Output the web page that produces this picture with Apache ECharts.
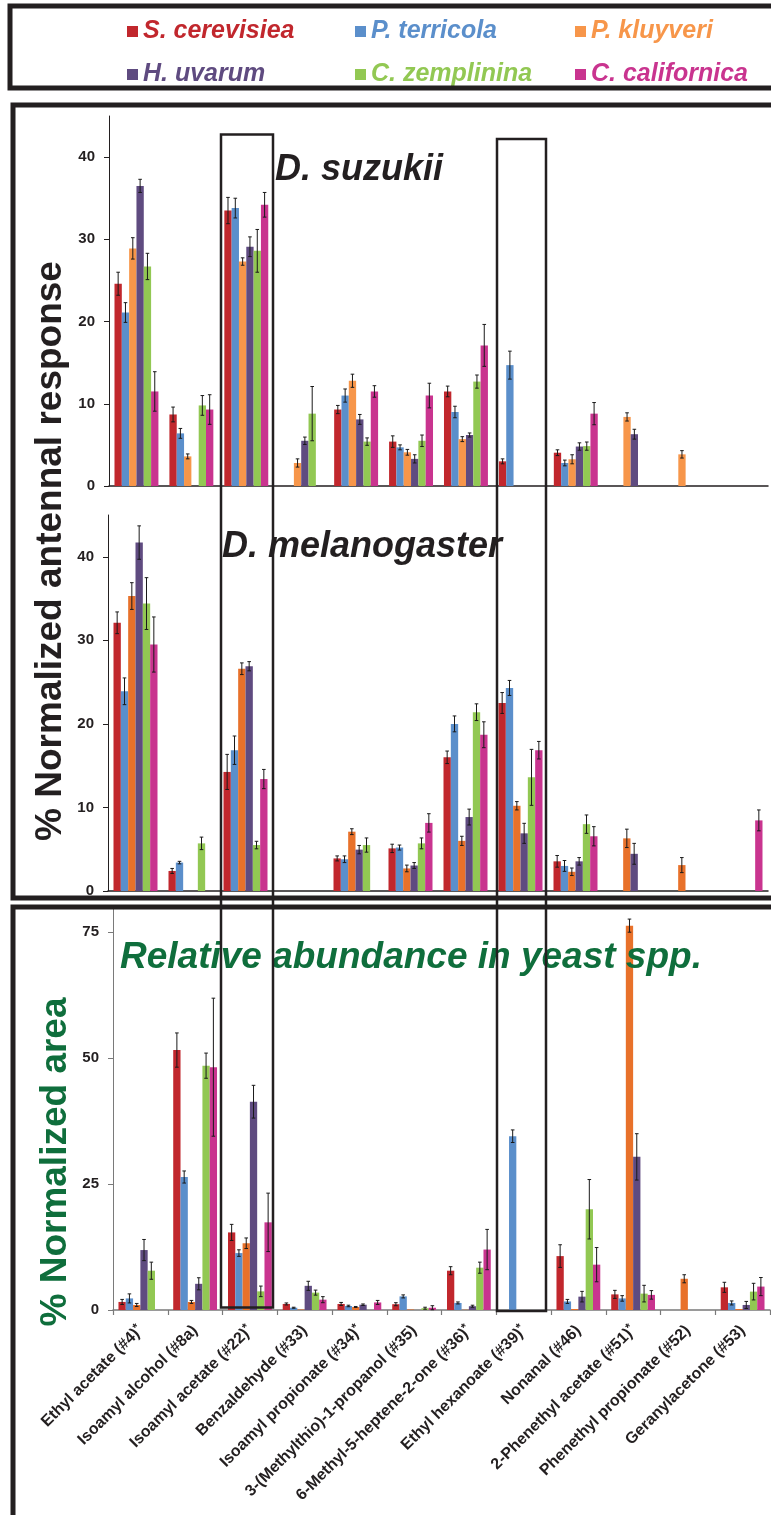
<!DOCTYPE html>
<html>
<head>
<meta charset="utf-8">
<script src="https://cdn.jsdelivr.net/npm/echarts@6/dist/echarts.min.js"></script>
<style>
  html, body { margin: 0; padding: 0; background: #fff; }
  #chart { width: 771px; height: 1515px; }
</style>
</head>
<body>
<div id="chart"></div>
<script>
const species = ['S. cerevisiea', 'P. terricola', 'P. kluyveri', 'H. uvarum', 'C. zemplinina', 'C. californica']
const compounds = [
  'Ethyl acetate (#4)', 'Isoamyl alcohol (#8a)', 'Isoamyl acetate (#22)', 'Benzaldehyde (#33)',
  'Isoamyl propionate (#34)', '3-(Methylthio)-1-propanol (#35)', '6-Methyl-5-heptene-2-one (#36)',
  'Ethyl hexanoate (#39)', 'Nonanal (#46)', '2-Phenethyl acetate (#51)', 'Phenethyl propionate (#52)',
  'Geranylacetone (#53)'
]
const starred = [true, false, true, false, true, false, true, true, false, true, false, false]

// D. suzukii, % normalized antennal response (rows follow species order)
const suzukiiMean = [
  [24.6, 8.7, 33.5, 0, 9.3, 5.4, 11.5, 3.0, 4.05, 0, 0, 0],
  [21.1, 6.4, 33.8, 0, 11.0, 4.7, 9.0, 14.7, 2.8, 0, 0, 0],
  [28.9, 3.6, 27.3, 2.8, 12.8, 4.1, 5.7, 0, 3.25, 8.4, 3.85, 0],
  [36.5, 0, 29.1, 5.5, 8.1, 3.3, 6.2, 0, 4.8, 6.3, 0, 0],
  [26.7, 9.8, 28.6, 8.8, 5.4, 5.5, 12.7, 0, 4.85, 0, 0, 0],
  [11.5, 9.3, 34.2, 0, 11.5, 11.0, 17.1, 0, 8.8, 0, 0, 0]
]
const suzukiiErr = [
  [1.4, 0.9, 1.6, 0, 0.5, 0.7, 0.65, 0.3, 0.35, 0, 0, 0],
  [1.2, 0.6, 1.2, 0, 0.8, 0.3, 0.7, 1.7, 0.35, 0, 0, 0],
  [1.3, 0.3, 0.45, 0.5, 0.8, 0.35, 0.3, 0, 0.55, 0.5, 0.45, 0],
  [0.8, 0, 1.2, 0.45, 0.6, 0.5, 0.25, 0, 0.45, 0.6, 0, 0],
  [1.6, 1.2, 2.6, 3.3, 0.45, 0.7, 0.8, 0, 0.5, 0, 0, 0],
  [2.4, 1.8, 1.5, 0, 0.7, 1.5, 2.55, 0, 1.35, 0, 0, 0]
]

// D. melanogaster
const melanoMean = [
  [32.1, 2.4, 14.25, 0, 3.9, 5.1, 16.0, 22.5, 3.55, 0, 0, 0],
  [23.9, 3.4, 16.85, 0, 3.8, 5.2, 20.0, 24.3, 3.0, 0, 0, 0],
  [35.3, 0, 26.6, 0, 7.1, 2.7, 6.0, 10.2, 2.3, 6.3, 3.1, 0],
  [41.7, 0, 26.9, 0, 4.95, 3.05, 8.85, 6.9, 3.55, 4.45, 0, 0],
  [34.4, 5.7, 5.5, 0, 5.5, 5.7, 21.4, 13.6, 8.0, 0, 0, 0],
  [29.5, 0, 13.4, 0, 0, 8.15, 18.7, 16.85, 6.55, 0, 0, 8.45]
]
const melanoErr = [
  [1.3, 0.3, 2.1, 0, 0.3, 0.5, 0.75, 1.25, 0.7, 0, 0, 0],
  [1.6, 0.15, 1.7, 0, 0.4, 0.3, 0.95, 0.9, 0.65, 0, 0, 0],
  [1.6, 0, 0.7, 0, 0.35, 0.4, 0.55, 0.5, 0.45, 1.1, 0.9, 0],
  [2.0, 0, 0.55, 0, 0.5, 0.35, 0.95, 1.2, 0.45, 1.25, 0, 0],
  [3.1, 0.75, 0.45, 0, 0.85, 0.65, 1.0, 3.35, 1.1, 0, 0, 0],
  [3.3, 0, 1.15, 0, 0, 1.1, 1.55, 1.05, 1.15, 0, 0, 1.25]
]

// relative abundance in yeast spp., % normalized area
const areaMean = [
  [1.6, 51.6, 15.4, 1.2, 1.2, 1.15, 7.8, 0, 10.7, 3.1, 0, 4.5],
  [2.3, 26.4, 11.3, 0.45, 0.8, 2.7, 1.4, 34.5, 1.7, 2.3, 0, 1.4],
  [1.0, 1.6, 13.25, 0.1, 0.6, 0.1, 0.05, 0, 0.2, 76.3, 6.2, 0.2],
  [11.9, 5.2, 41.35, 4.8, 1.05, 0, 0.75, 0, 2.65, 30.4, 0, 1.0],
  [7.8, 48.5, 3.7, 3.45, 0, 0.35, 8.4, 0, 20.0, 3.25, 0, 3.65],
  [0, 48.2, 17.4, 2.05, 1.5, 0.45, 12.0, 0, 9.0, 3.0, 0, 4.65]
]
const areaErr = [
  [0.5, 3.4, 1.6, 0.2, 0.3, 0.3, 0.8, 0, 2.25, 0.8, 0, 1.0],
  [0.9, 1.2, 0.65, 0.1, 0.15, 0.3, 0.2, 1.25, 0.4, 0.55, 0, 0.4],
  [0.3, 0.3, 1.05, 0, 0.1, 0, 0, 0, 0, 1.3, 0.8, 0],
  [2.1, 1.2, 3.25, 0.9, 0.15, 0, 0.2, 0, 1.05, 4.6, 0, 0.7],
  [1.7, 2.5, 1.05, 0.5, 0, 0.2, 1.1, 0, 5.9, 1.65, 0, 1.65],
  [0, 13.7, 5.8, 0.6, 0.4, 0.4, 4.0, 0, 3.4, 0.85, 0, 1.8]
]

const colorsTop = ['#c1272d', '#5b8fcb', '#f7964a', '#5f4b80', '#92c853', '#c9348f']
const colorsLow = ['#c1272d', '#5b8fcb', '#e8712a', '#5f4b80', '#92c853', '#c9348f']

const FONT = '"Liberation Sans", Arial, sans-serif'
const INK = '#231f20'
const GREEN = '#0f6e3c'

const chart = echarts.init(document.getElementById('chart'))

function errorBars(params, api) {
  const cat = api.value(0)
  const val = api.value(1)
  const err = api.value(2)
  const s = api.value(3)
  if (!err) {
    return
  }
  const band = api.size([1, 0])[0]
  const barW = band * 0.8 / 6
  const x = api.coord([cat, val])[0] + (s - 2.5) * barW
  const hi = api.coord([cat, val + err])[1]
  const lo = api.coord([cat, Math.max(val - err, 0)])[1]
  const style = { stroke: '#1a1a1a', lineWidth: 1 }
  return {
    type: 'group',
    children: [
      { type: 'line', shape: { x1: x, y1: hi, x2: x, y2: lo }, style },
      { type: 'line', shape: { x1: x - 1.8, y1: hi, x2: x + 1.8, y2: hi }, style },
      { type: 'line', shape: { x1: x - 1.8, y1: lo, x2: x + 1.8, y2: lo }, style }
    ]
  }
}

function panelSeries(means, errs, idx, colors) {
  const list = species.map((name, s) => ({
    name,
    type: 'bar',
    xAxisIndex: idx,
    yAxisIndex: idx,
    barGap: '0%',
    barCategoryGap: '20%',
    itemStyle: { color: colors[s] },
    data: means[s]
  }))
  const bars = []
  means.forEach((row, s) => {
    row.forEach((v, c) => bars.push([c, v, errs[s][c], s]))
  })
  list.push({
    type: 'custom',
    xAxisIndex: idx,
    yAxisIndex: idx,
    renderItem: errorBars,
    encode: { x: 0, y: 1 },
    silent: true,
    z: 3,
    data: bars
  })
  return list
}

function yAxis(idx, max, interval, lineColor) {
  return {
    type: 'value',
    gridIndex: idx,
    min: 0,
    max,
    interval,
    axisLine: { show: true, lineStyle: { color: lineColor, width: 1 } },
    axisTick: { show: true, length: 5, lineStyle: { color: lineColor } },
    axisLabel: {
      margin: 14,
      color: INK,
      fontSize: 15,
      fontWeight: 'bold',
      fontFamily: FONT,
      showMaxLabel: false
    },
    splitLine: { show: false }
  }
}

function xAxis(idx, showLabels, lineColor) {
  return {
    type: 'category',
    gridIndex: idx,
    data: compounds,
    axisLine: { show: true, lineStyle: { color: lineColor, width: 1.5 } },
    axisTick: { show: showLabels, length: 5, lineStyle: { color: lineColor, width: 1.2 } },
    axisLabel: {
      show: showLabels,
      interval: 0,
      rotate: 45,
      margin: 18,
      color: INK,
      fontSize: 16,
      fontWeight: 'bold',
      fontFamily: FONT,
      lineHeight: 18,
      formatter: (value, index) => starred[index] ? value + '{s|*}' : value,
      rich: {
        s: { fontSize: 12, fontWeight: 'bold', fontFamily: FONT, color: INK, verticalAlign: 'top', lineHeight: 18 }
      }
    }
  }
}

// legend: three columns, two rows
const legendSpots = [[122, 14], [350, 14], [570, 14], [122, 57], [350, 57], [570, 57]]
const legends = species.map((name, s) => ({
  data: [name],
  left: legendSpots[s][0],
  top: legendSpots[s][1],
  icon: 'rect',
  itemWidth: 11,
  itemHeight: 11,
  selectedMode: false,
  textStyle: {
    color: colorsTop[s],
    fontSize: 25,
    fontWeight: 'bold',
    fontStyle: 'italic',
    fontFamily: FONT
  }
}))

function label(text, x, y, size, color, rotation) {
  return {
    type: 'text',
    x,
    y,
    rotation: rotation || 0,
    z: 20,
    style: {
      text,
      font: (rotation ? '' : 'italic ') + 'bold ' + size + 'px ' + FONT,
      fill: color,
      textAlign: rotation ? 'center' : 'left',
      align: rotation ? 'center' : 'left',
      textVerticalAlign: 'middle',
      verticalAlign: 'middle'
    }
  }
}

function box(x, y, width, height, lineWidth) {
  return {
    type: 'rect',
    z: 30,
    shape: { x, y, width, height },
    style: { fill: 'none', stroke: INK, lineWidth }
  }
}

const option = {
  animation: false,
  textStyle: { fontFamily: FONT },
  legend: legends,
  grid: [
    { left: 109, top: 116, width: 659, height: 370 },
    { left: 108, top: 515, width: 660, height: 376 },
    { left: 113, top: 907, width: 657, height: 403 }
  ],
  xAxis: [
    xAxis(0, false, INK),
    xAxis(1, false, INK),
    xAxis(2, true, '#7a7a7a')
  ],
  yAxis: [
    yAxis(0, 45, 10, INK),
    yAxis(1, 45, 10, INK),
    yAxis(2, 80, 25, '#7a7a7a')
  ],
  series: [
    ...panelSeries(suzukiiMean, suzukiiErr, 0, colorsTop),
    ...panelSeries(melanoMean, melanoErr, 1, colorsLow),
    ...panelSeries(areaMean, areaErr, 2, colorsLow)
  ],
  graphic: [
    box(10, 6, 800, 82, 5),
    box(13, 105, 800, 793, 5),
    box(13, 907, 800, 700, 5),
    box(221, 134.5, 52, 1173, 2.5),
    box(497, 139, 49, 1172, 2.5),
    label('D. suzukii', 275, 170, 36, INK),
    label('D. melanogaster', 222, 547, 36, INK),
    label('Relative abundance in yeast spp.', 120, 958, 37, GREEN),
    label('% Normalized antennal response', 51, 551, 37, INK, Math.PI / 2),
    label('% Normalized area', 56, 1162, 37, GREEN, Math.PI / 2)
  ]
}

chart.setOption(option)
</script>
</body>
</html>
